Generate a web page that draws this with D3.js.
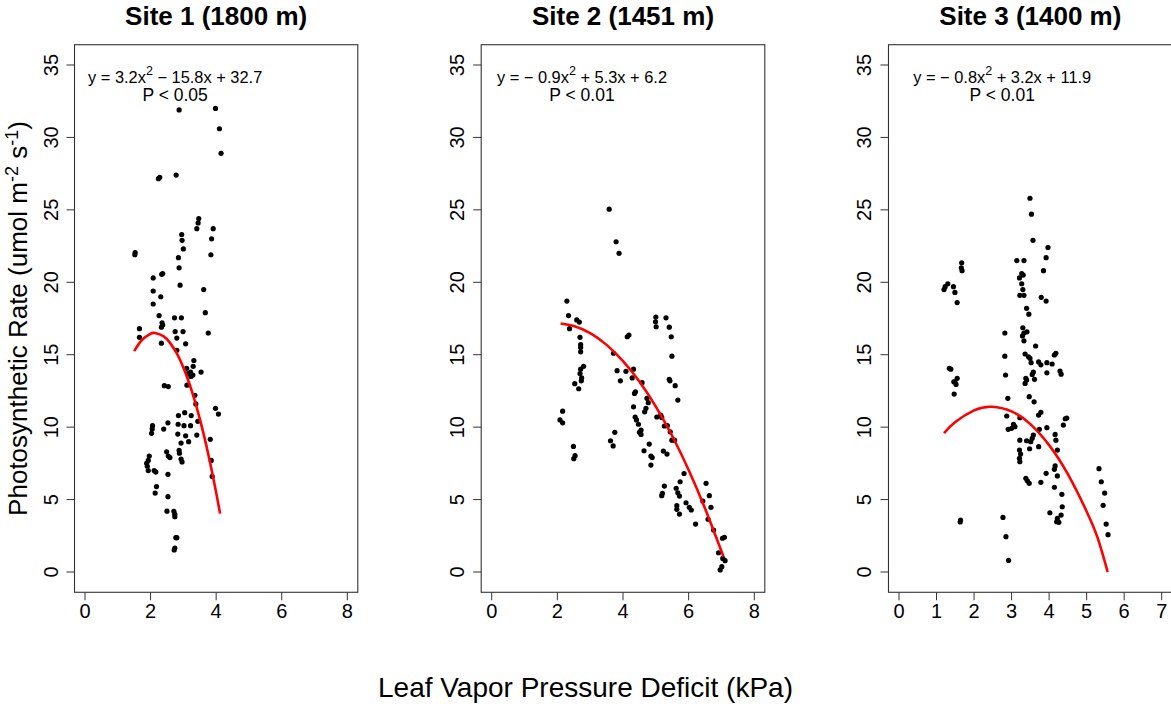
<!DOCTYPE html>
<html>
<head>
<meta charset="utf-8">
<script src="https://cdn.jsdelivr.net/npm/d3@7"></script>
<style>
  body { margin: 0; background: #fff; }
  svg text { font-family: "Liberation Sans", Arial, sans-serif; fill: #000; }
</style>
</head>
<body>
<div id="chart"></div>
<script>
// site 1 (1800 m) leaf VPD and photosynthetic rate
var site1Vpd = [2.87,3.98,4.10,4.15,2.24,2.28,2.78,3.47,3.45,3.41,3.91,2.95,2.96,3.86,3.00,1.52,1.53,3.84,2.85,2.87,
  2.37,2.34,2.08,2.90,2.08,3.62,2.31,2.08,2.26,2.73,2.94,3.67,2.35,2.37,2.33,1.66,1.66,2.75,2.99,2.80,
  3.76,2.33,3.07,2.80,3.32,3.10,3.22,3.30,3.14,3.29,3.54,3.23,3.11,2.42,2.54,3.35,3.38,3.98,4.07,2.85,
  3.04,3.24,3.44,2.53,2.06,2.05,2.84,3.02,3.22,2.40,2.03,2.83,3.07,3.41,3.82,3.16,2.93,2.87,2.88,2.49,
  2.54,2.59,1.96,1.93,1.88,1.90,2.93,2.96,3.85,1.93,2.11,2.16,2.53,3.88,2.18,2.14,2.53,2.50,2.71,2.74,
  2.74,2.77,2.80,2.72,2.74];
var site1Rate = [31.9,32.0,30.6,28.9,27.15,27.25,27.4,24.4,24.1,23.7,23.7,23.3,22.9,23.0,22.3,21.9,22.05,21.9,21.7,21.0,
  20.6,20.55,20.3,19.8,19.4,19.5,19.0,18.5,17.7,17.55,17.55,17.9,17.2,17.05,16.9,16.8,16.2,16.6,16.6,16.15,
  16.5,15.8,15.75,15.3,14.6,14.06,13.8,14.2,13.7,13.6,13.8,13.5,12.9,12.86,12.8,12.2,11.6,11.3,10.9,10.8,
  11.0,10.8,10.4,10.3,10.1,9.87,10.2,10.1,10.1,9.87,9.57,9.52,9.4,9.45,9.16,9.0,8.9,8.4,8.2,8.3,
  8.0,7.9,8.0,7.7,7.5,7.3,7.8,7.6,7.7,7.0,7.0,6.9,6.74,6.6,5.9,5.45,5.2,4.2,4.19,3.98,
  3.82,2.37,2.37,1.52,1.65];

// site 2 (1451 m)
var site2Vpd = [3.58,3.79,3.88,2.29,2.34,2.59,2.67,5.00,5.31,4.99,5.01,5.41,5.47,2.37,2.69,2.71,2.71,2.71,4.18,4.13,
  3.71,5.49,2.80,2.71,2.69,2.74,2.73,3.82,4.09,4.32,3.92,4.28,5.41,5.43,4.58,2.53,5.59,2.65,4.38,4.35,
  4.73,4.77,5.67,4.32,4.70,4.66,2.16,4.37,4.41,5.03,5.15,5.18,2.08,2.16,4.47,5.26,5.35,4.55,4.55,4.50,
  3.75,5.44,5.49,5.57,3.62,3.70,4.80,2.49,4.64,5.23,5.34,4.85,4.89,2.54,2.50,4.85,5.86,5.74,6.53,5.26,
  5.62,5.67,5.20,5.18,6.63,5.72,6.43,5.92,5.64,6.02,6.68,5.64,6.08,5.72,6.59,6.21,6.76,7.03,7.09,6.91,
  7.04,7.11,7.01,6.96];
var site2Rate = [25.05,22.8,22.0,18.7,17.7,17.4,17.25,17.6,17.55,17.27,16.93,16.9,16.24,16.8,16.2,15.7,15.5,15.2,16.36,16.24,
  15.1,14.9,14.2,14.0,13.7,13.4,13.2,13.9,13.85,14.0,13.2,13.4,13.3,13.2,13.07,13.0,12.86,12.65,12.44,12.33,
  11.99,11.69,11.87,11.4,11.3,11.06,11.1,10.7,10.5,10.7,10.83,10.67,10.5,10.3,10.2,10.08,10.1,9.8,9.5,9.64,
  9.64,9.68,9.1,9.1,9.06,8.7,8.83,8.67,8.37,8.35,8.14,8.0,7.9,8.03,7.82,7.38,6.8,6.23,6.12,5.93,
  5.78,5.47,5.43,5.27,5.27,5.24,4.9,4.78,4.58,4.46,4.46,4.33,4.28,4.0,3.64,3.31,2.9,2.33,2.4,1.33,
  0.94,0.78,0.37,0.14];

// site 3 (1400 m)
var site3Vpd = [3.49,3.53,3.57,3.97,3.92,3.14,3.33,1.67,1.66,1.68,3.27,3.21,3.31,3.85,1.30,1.23,1.20,1.45,1.49,3.27,
  3.30,3.22,3.33,3.79,3.92,1.55,3.40,3.46,2.82,3.30,3.33,3.29,3.33,3.41,3.64,2.82,3.36,3.45,3.49,3.52,
  3.72,3.78,3.94,4.08,4.18,4.14,3.58,3.55,3.94,4.29,4.32,2.84,1.34,1.38,1.55,1.49,1.46,1.52,1.47,3.38,
  3.36,3.40,3.61,3.47,3.60,2.90,3.78,3.72,4.43,4.47,4.38,2.87,3.22,3.05,3.09,3.00,2.91,3.94,3.74,3.58,
  3.55,3.51,3.40,4.16,4.18,3.22,3.48,3.72,4.22,3.21,3.24,3.21,3.22,4.16,4.14,4.22,3.92,3.38,3.42,3.47,
  3.78,4.14,4.34,4.35,4.32,4.22,4.26,4.02,4.20,1.64,1.63,2.77,2.85,2.92,5.33,5.39,5.48,5.44,5.52,5.57];
var site3Rate = [25.8,24.7,22.9,22.4,21.7,21.5,21.5,21.35,21.0,20.8,20.6,20.3,20.5,20.8,19.9,19.7,19.5,19.7,19.3,19.9,
  19.5,19.1,19.1,18.96,18.7,18.6,18.2,17.8,16.5,16.86,16.5,16.3,15.96,16.58,15.6,14.9,15.05,14.86,14.75,14.45,
  14.5,14.3,14.45,14.36,15.1,14.98,13.8,13.64,13.75,13.87,13.66,13.6,14.06,14.0,13.37,13.13,13.13,12.95,12.28,13.37,
  13.02,13.25,13.3,12.1,11.75,11.99,11.02,10.83,10.58,10.63,10.14,10.77,10.65,10.19,10.03,9.92,9.85,9.96,9.85,9.45,
  9.23,9.0,9.06,9.5,9.1,9.1,8.51,8.65,8.42,8.42,8.14,7.85,7.61,7.32,7.09,6.63,6.81,6.47,6.3,6.12,
  6.19,5.85,5.36,4.5,3.93,3.7,3.43,4.09,3.47,3.59,3.45,3.77,2.44,0.8,7.13,6.23,5.45,4.6,3.31,2.58];

// fitted curves
var fit1Vpd = [1.5,1.75,2.0,2.13,2.4,2.6,2.8,3.0,3.2,3.4,3.6,3.8,4.0,4.12];
var fit1Rate = [15.25,16.05,16.45,16.5,16.27,15.8,15.09,14.12,12.89,11.42,9.69,7.72,5.49,4.03];
var fit2Vpd = [2.1,2.5,3.0,3.5,4.0,4.5,5.0,5.5,6.0,6.5,7.06];
var fit2Rate = [17.16,16.98,16.49,15.68,14.56,13.15,11.42,9.39,7.04,4.38,1.06];
var fit3Vpd = [1.2,1.5,2.0,2.47,3.0,3.5,4.0,4.5,5.0,5.3,5.56];
var fit3Rate = [9.59,10.35,11.16,11.41,11.09,10.21,8.76,6.75,4.18,2.3,0.0];

var titles = ["Site 1 (1800 m)", "Site 2 (1451 m)", "Site 3 (1400 m)"];
var eqLead = ["y = 3.2x", "y = \u2212 0.9x", "y = \u2212 0.8x"];
var eqTail = [" \u2212 15.8x + 32.7", " + 5.3x + 6.2", " + 3.2x + 11.9"];
var pLabels = ["P < 0.05", "P < 0.01", "P < 0.01"];
var xTicks = [[0,2,4,6,8], [0,2,4,6,8], [0,1,2,3,4,5,6,7]];
var yTicks = [0,5,10,15,20,25,30,35];

var panels = [
  {vpd: site1Vpd, rate: site1Rate, fx: fit1Vpd, fy: fit1Rate, xmax: 8},
  {vpd: site2Vpd, rate: site2Rate, fx: fit2Vpd, fy: fit2Rate, xmax: 8},
  {vpd: site3Vpd, rate: site3Rate, fx: fit3Vpd, fy: fit3Rate, xmax: 7}
];

var width = 1171, height = 704;
// pixel range of each panel's x limits
var xLeft = [85, 491.7, 899];
var xRight = [347.3, 754.3, 1161.7];
var tickLen = 8;
var eqAt = 2.75;

var svg = d3.select("#chart")
  .append("svg")
    .attr("width", width)
    .attr("height", height);

var y = d3.scaleLinear().domain([0, 35]).range([572, 65]);
var boxTop = y(36.4), boxBottom = y(-1.4);

panels.forEach(function(p, i){
  var x = d3.scaleLinear().domain([0, p.xmax]).range([xLeft[i], xRight[i]]);
  var pad = p.xmax * 0.04;
  var boxLeft = x(-pad), boxRight = x(p.xmax + pad);
  var g = svg.append("g");

  // title
  g.append("text")
    .attr("x", (boxLeft + boxRight) / 2)
    .attr("y", 24.5)
    .attr("text-anchor", "middle")
    .style("font-size", "26px")
    .style("font-weight", "bold")
    .text(titles[i]);

  // points
  g.selectAll("circle")
    .data(p.vpd)
    .enter().append("circle")
      .attr("cx", function(d){ return x(d); })
      .attr("cy", function(d, j){ return y(p.rate[j]); })
      .attr("r", 2.6)
      .attr("fill", "#000");

  // fitted curve
  var line = d3.line()
    .x(function(d){ return x(d); })
    .y(function(d, j){ return y(p.fy[j]); })
    .curve(d3.curveNatural);
  g.append("path")
    .attr("d", line(p.fx))
    .attr("fill", "none")
    .attr("stroke", "#ff0000")
    .attr("stroke-width", 2.6);

  // box
  g.append("rect")
    .attr("x", boxLeft)
    .attr("y", boxTop)
    .attr("width", boxRight - boxLeft)
    .attr("height", boxBottom - boxTop)
    .attr("fill", "none")
    .attr("stroke", "#333")
    .attr("stroke-width", 1.1);

  // y axis
  g.selectAll(".ytick")
    .data(yTicks)
    .enter().append("line")
      .attr("x1", boxLeft - tickLen)
      .attr("x2", boxLeft)
      .attr("y1", function(d){ return y(d); })
      .attr("y2", function(d){ return y(d); })
      .attr("stroke", "#333");
  g.selectAll(".ylab")
    .data(yTicks)
    .enter().append("text")
      .attr("transform", function(d){ return "translate(" + (boxLeft - 17) + "," + y(d) + ") rotate(-90)"; })
      .attr("text-anchor", "middle")
      .style("font-size", "20px")
      .text(function(d){ return d; });

  // x axis
  g.selectAll(".xtick")
    .data(xTicks[i])
    .enter().append("line")
      .attr("x1", function(d){ return x(d); })
      .attr("x2", function(d){ return x(d); })
      .attr("y1", boxBottom)
      .attr("y2", boxBottom + tickLen)
      .attr("stroke", "#333");
  g.selectAll(".xlab")
    .data(xTicks[i])
    .enter().append("text")
      .attr("x", function(d){ return x(d); })
      .attr("y", boxBottom + 26)
      .attr("text-anchor", "middle")
      .style("font-size", "20px")
      .text(function(d){ return d; });

  // equation and p value
  var eq = g.append("text")
    .attr("x", x(eqAt))
    .attr("y", boxTop + 38)
    .attr("text-anchor", "middle")
    .style("font-size", "16.4px");
  eq.append("tspan").text(eqLead[i]);
  eq.append("tspan").attr("dy", -8).style("font-size", "12.5px").text("2");
  eq.append("tspan").attr("dy", 8).text(eqTail[i]);

  g.append("text")
    .attr("x", x(eqAt))
    .attr("y", boxTop + 56)
    .attr("text-anchor", "middle")
    .style("font-size", "17.5px")
    .text(pLabels[i]);
});

// shared axis titles
var ylab = svg.append("text")
  .attr("transform", "translate(27," + ((boxTop + boxBottom) / 2) + ") rotate(-90)")
  .attr("text-anchor", "middle")
  .style("font-size", "26px");
ylab.append("tspan").text("Photosynthetic Rate (umol m");
ylab.append("tspan").attr("dy", -9).style("font-size", "18px").text("-2");
ylab.append("tspan").attr("dy", 9).text(" s");
ylab.append("tspan").attr("dy", -9).style("font-size", "18px").text("-1");
ylab.append("tspan").attr("dy", 9).text(")");

svg.append("text")
  .attr("x", width / 2)
  .attr("y", 697)
  .attr("text-anchor", "middle")
  .style("font-size", "28px")
  .text("Leaf Vapor Pressure Deficit (kPa)");
</script>
</body>
</html>
